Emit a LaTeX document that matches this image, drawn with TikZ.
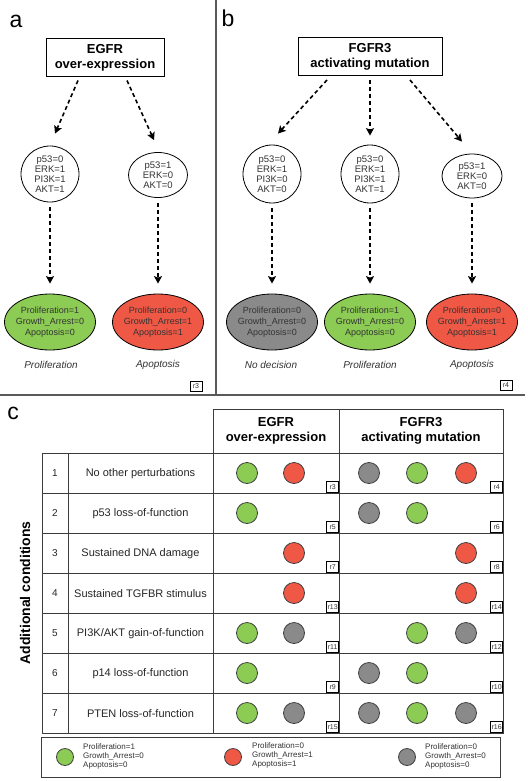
\documentclass[tikz,border=0pt]{standalone}
\usepackage{fontspec}
\setmainfont{Liberation Sans}
\usetikzlibrary{shapes.geometric,arrows.meta,calc}
\definecolor{cgreen}{RGB}{140,204,84}
\definecolor{cred}{RGB}{240,88,70}
\definecolor{cgray}{RGB}{138,138,138}
\definecolor{cline}{RGB}{60,60,60}
\begin{document}
\begin{tikzpicture}[x=1pt,y=-1pt,
  panel/.style={font=\fontsize{23}{23}\selectfont, inner sep=0pt},
  headbox/.style={draw, line width=1pt, font=\fontsize{13}{15}\selectfont\bfseries, align=center, inner sep=0pt, minimum height=38pt},
  state/.style={draw, ellipse, line width=0.8pt, inner sep=0pt, font=\fontsize{9.5}{10}\selectfont, text=black!80, align=center},
  fate/.style={draw, ellipse, line width=0.8pt, minimum width=91pt, minimum height=56pt, inner xsep=-6pt, inner ysep=-4pt, font=\fontsize{9}{11}\selectfont, text=black!80, align=center},
  fatelbl/.style={font=\fontsize{10}{12}\selectfont\itshape, text=black!80},
  darr/.style={line width=1.6pt, dash pattern=on 4pt off 3pt, -{Stealth[length=7.5pt,width=8pt,inset=1.5pt]}},
  sep/.style={draw=black!65, line width=1.5pt},
  rbox/.style={draw, line width=0.6pt, font=\fontsize{7}{7}\selectfont, text=black!80, inner sep=1pt, minimum width=12pt, minimum height=11pt},
  tline/.style={draw=cline, line width=1pt},
  colhead/.style={font=\fontsize{13}{15}\selectfont\bfseries, align=center},
  num/.style={font=\fontsize{10}{12}\selectfont, text=black!85},
  desc/.style={font=\fontsize{11}{13}\selectfont, text=black!85},
  dot/.style={circle, draw=black!75, line width=0.8pt, minimum size=21pt, inner sep=0pt},
  ldot/.style={circle, draw=black!75, line width=0.8pt, minimum size=17pt, inner sep=0pt},
  ltext/.style={font=\fontsize{8}{9}\selectfont, text=black!80, align=left, anchor=west, inner sep=0pt}
]
\useasboundingbox (0,0) rectangle (527,781);
\fill[white] (0,0) rectangle (527,781);

% separators
\draw[sep] (216,0) -- (216,395);
\draw[sep] (0,395) -- (525,395);

% ---------------- panel a
\node[panel] (la) at (16,21) {a};
\node[headbox, minimum width=118pt] (egfr) at (105,57.5) {EGFR\\over-expression};
\node[state, minimum width=58pt, minimum height=56pt] (c1) at (50,174) {p53=0\\ERK=1\\PI3K=1\\AKT=1};
\node[state, minimum width=59pt, minimum height=45pt] (c2) at (158,175) {p53=1\\ERK=0\\AKT=0};
\node[fate, fill=cgreen] (e1) at (50,322) {Proliferation=1\\Growth\_Arrest=0\\Apoptosis=0};
\node[fate, fill=cred] (e2) at (158,322) {Proliferation=0\\Growth\_Arrest=1\\Apoptosis=1};
\node[fatelbl] (l1) at (51,365) {Proliferation};
\node[fatelbl] (l2) at (158,365) {Apoptosis};
\node[rbox, minimum height=10pt] (ra) at (196,386) {r3};
\draw[darr] ($(egfr.south)+(-27,3.5)$) -- ($(c1.north)+(5,-12)$);
\draw[darr] ($(egfr.south)+(22,3.5)$) -- ($(c2.north)+(-4,-12)$);
\draw[darr] ($(c1.south)+(0,5)$) -- ($(e1.north)+(0,-10)$);
\draw[darr] ($(c2.south)+(0,5)$) -- ($(e2.north)+(0,-10)$);

% ---------------- panel b
\node[panel] (lb) at (228,18.5) {b};
\node[headbox, minimum width=144pt] (fgfr) at (370,56.5) {FGFR3\\activating mutation};
\node[state, minimum width=58pt, minimum height=58pt] (c3) at (272,174) {p53=0\\ERK=1\\PI3K=0\\AKT=0};
\node[state, minimum width=58pt, minimum height=58pt] (c4) at (370,174) {p53=0\\ERK=1\\PI3K=1\\AKT=1};
\node[state, minimum width=60pt, minimum height=44pt] (c5) at (472,176) {p53=1\\ERK=0\\AKT=0};
\node[fate, fill=cgray] (e3) at (272,322) {Proliferation=0\\Growth\_Arrest=0\\Apoptosis=0};
\node[fate, fill=cgreen] (e4) at (370,322) {Proliferation=1\\Growth\_Arrest=0\\Apoptosis=0};
\node[fate, fill=cred] (e5) at (472,322) {Proliferation=0\\Growth\_Arrest=1\\Apoptosis=1};
\node[fatelbl] (l3) at (271,365) {No decision};
\node[fatelbl] (l4) at (370,365) {Proliferation};
\node[fatelbl] (l5) at (472,365) {Apoptosis};
\node[rbox, minimum height=10pt] (rb) at (506,385) {r4};
\draw[darr] ($(fgfr.south)+(-43,4)$) -- ($(c3.north)+(6,-11)$);
\draw[darr] ($(fgfr.south)+(0,4)$) -- ($(c4.north)+(0,-9)$);
\draw[darr] ($(fgfr.south)+(40,4)$) -- ($(c5.north)+(-10,-12)$);
\draw[darr] ($(c3.south)+(0,5)$) -- ($(e3.north)+(0,-10)$);
\draw[darr] ($(c4.south)+(0,5)$) -- ($(e4.north)+(0,-10)$);
\draw[darr] ($(c5.south)+(0,5)$) -- ($(e5.north)+(0,-10)$);

% ---------------- panel c
\node[panel] (lc) at (13,413.5) {c};
\draw[tline] (213,409) rectangle (503,453);
\draw[tline] (42,453) rectangle (503,733);
\foreach \yy in {493,533,573,613,653,693} \draw[tline] (42,\yy) -- (503,\yy);
\draw[tline] (68,453) -- (68,733);
\draw[tline] (213,453) -- (213,733);
\draw[tline] (339,409) -- (339,733);
\node[colhead] (h1) at (276,431) {EGFR\\over-expression};
\node[colhead] (h2) at (421,431) {FGFR3\\activating mutation};
\node[font=\fontsize{14}{14}\selectfont\bfseries, rotate=90] (addc) at (25,593) {Additional conditions};

\foreach \n/\t [count=\i] in {1/No other perturbations, 2/p53 loss-of-function, 3/Sustained DNA damage, 4/Sustained TGFBR stimulus, 5/PI3K\slash AKT gain-of-function, 6/p14 loss-of-function, 7/PTEN loss-of-function}{
  \node[num] (n\i) at (55,433+40*\i) {\n};
  \node[desc] (t\i) at (140.5,434+40*\i) {\t};
}
\foreach \a/\b [count=\i] in {r3/r4, r5/r6, r7/r8, r13/r14, r11/r12, r9/r10, r15/r16}{
  \node[rbox, anchor=south east] (rl\i) at (339,453+40*\i) {\a};
  \node[rbox, anchor=south east] (rr\i) at (503,453+40*\i) {\b};
}
\foreach \yy/\xx/\cc [count=\i] in {
  473/247/cgreen, 473/294/cred, 473/369/cgray, 473/417/cgreen, 473/466/cred,
  513/247/cgreen, 513/369/cgray, 513/417/cgreen,
  553/294/cred, 553/466/cred,
  593/294/cred, 593/466/cred,
  633/247/cgreen, 633/294/cgray, 633/417/cgreen, 633/466/cgray,
  673/247/cgreen, 673/369/cgray, 673/417/cgreen,
  713/247/cgreen, 713/294/cgray, 713/369/cgray, 713/417/cgreen, 713/466/cgray}{
  \node[dot, fill=\cc] (d\i) at (\xx,\yy) {};
}

% legend
\draw[tline] (41,737) rectangle (500,777);
\node[ldot, fill=cgreen] (lg1) at (65,757) {};
\node[ldot, fill=cred] (lg2) at (233,757) {};
\node[ldot, fill=cgray] (lg3) at (407,757) {};
\node[ltext] (lt1) at (83,756.5) {Proliferation=1\\Growth\_Arrest=0\\Apoptosis=0};
\node[ltext] (lt2) at (252,755.5) {Proliferation=0\\Growth\_Arrest=1\\Apoptosis=1};
\node[ltext] (lt3) at (425,756.5) {Proliferation=0\\Growth\_Arrest=0\\Apoptosis=0};
\end{tikzpicture}
\end{document}
